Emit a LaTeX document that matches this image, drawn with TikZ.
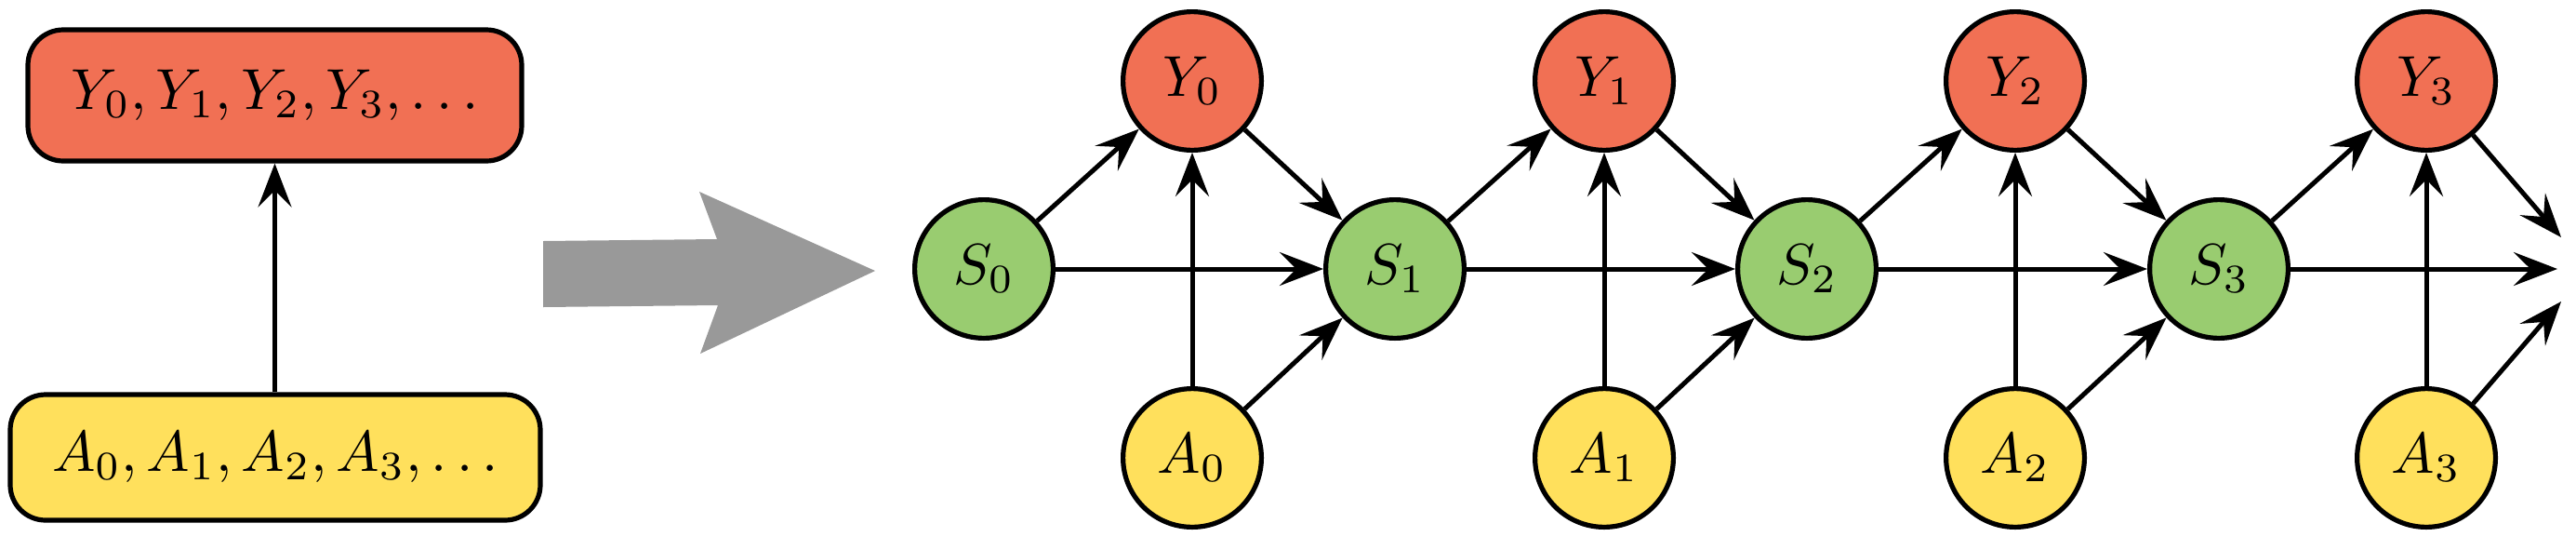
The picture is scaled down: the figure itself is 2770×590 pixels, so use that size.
\documentclass[tikz,border=0pt]{standalone}
\usepackage{graphicx}
\usetikzlibrary{arrows.meta}
\definecolor{cred}{HTML}{F17054}
\definecolor{cgreen}{HTML}{99CC70}
\definecolor{cyellow}{HTML}{FFE05C}
\definecolor{cgray}{HTML}{999999}
\newcommand{\bigtxt}[1]{\scalebox{1.55}{#1}}
\tikzset{
  var/.style={circle, draw=black, line width=1.3pt, minimum size=37.2pt, inner sep=0pt, font=\fontsize{10}{12}\selectfont},
  ynode/.style={var, fill=cred},
  snode/.style={var, fill=cgreen},
  anode/.style={var, fill=cyellow},
  seqbox/.style={rectangle, rounded corners=9.5pt, draw=black, line width=1.3pt, inner sep=0pt, font=\fontsize{10}{12}\selectfont},
  conn/.style={line width=1.25pt, -{Stealth[length=11.75pt, width=9pt, inset=4.5pt]}},
}
\begin{document}
\begin{tikzpicture}[x=0.25pt, y=-0.25pt]
\useasboundingbox (0,0) rectangle (2770,590);
% left summary
\node[seqbox, fill=cred, minimum width=132.75pt, minimum height=35.25pt] (ybox) at (295.5,102.5) {\bigtxt{$Y_0, Y_1, Y_2, Y_3, \ldots$}};
\node[seqbox, fill=cyellow, minimum width=142.5pt, minimum height=33.75pt] (abox) at (296,491.5) {\bigtxt{$A_0, A_1, A_2, A_3, \ldots$}};
\draw[conn] (abox.north -| ybox.south) -- (ybox.south);
% big gray arrow
\fill[cgray] (584,259) -- (771,257) -- (752,206) -- (941,291) -- (753,380) -- (772,328) -- (584,330) -- cycle;
% unrolled graph
\node[snode] (s0) at (1058,289) {\bigtxt{$S_0$}};
\node[snode] (s1) at (1500,289) {\bigtxt{$S_1$}};
\node[snode] (s2) at (1943,289) {\bigtxt{$S_2$}};
\node[snode] (s3) at (2386,289) {\bigtxt{$S_3$}};
\node[ynode] (y0) at (1282,87) {\bigtxt{$Y_0$}};
\node[ynode] (y1) at (1725,87) {\bigtxt{$Y_1$}};
\node[ynode] (y2) at (2167,87) {\bigtxt{$Y_2$}};
\node[ynode] (y3) at (2609,87) {\bigtxt{$Y_3$}};
\node[anode] (a0) at (1282,492) {\bigtxt{$A_0$}};
\node[anode] (a1) at (1725,492) {\bigtxt{$A_1$}};
\node[anode] (a2) at (2167,492) {\bigtxt{$A_2$}};
\node[anode] (a3) at (2609,492) {\bigtxt{$A_3$}};
\coordinate (e1) at (2754,255);
\coordinate (e2) at (2750,289);
\coordinate (e3) at (2754,324);
\foreach \i/\j in {0/1,1/2,2/3}{
  \draw[conn] (s\i) -- (s\j);
  \draw[conn] (s\i) -- (y\i);
  \draw[conn] (a\i) -- (y\i);
  \draw[conn] (y\i) -- (s\j);
  \draw[conn] (a\i) -- (s\j);
}
\draw[conn] (s3) -- (y3);
\draw[conn] (a3) -- (y3);
\draw[conn] (s3) -- (e2);
\draw[conn] (y3) -- (e1);
\draw[conn] (a3) -- (e3);
\end{tikzpicture}
\end{document}
